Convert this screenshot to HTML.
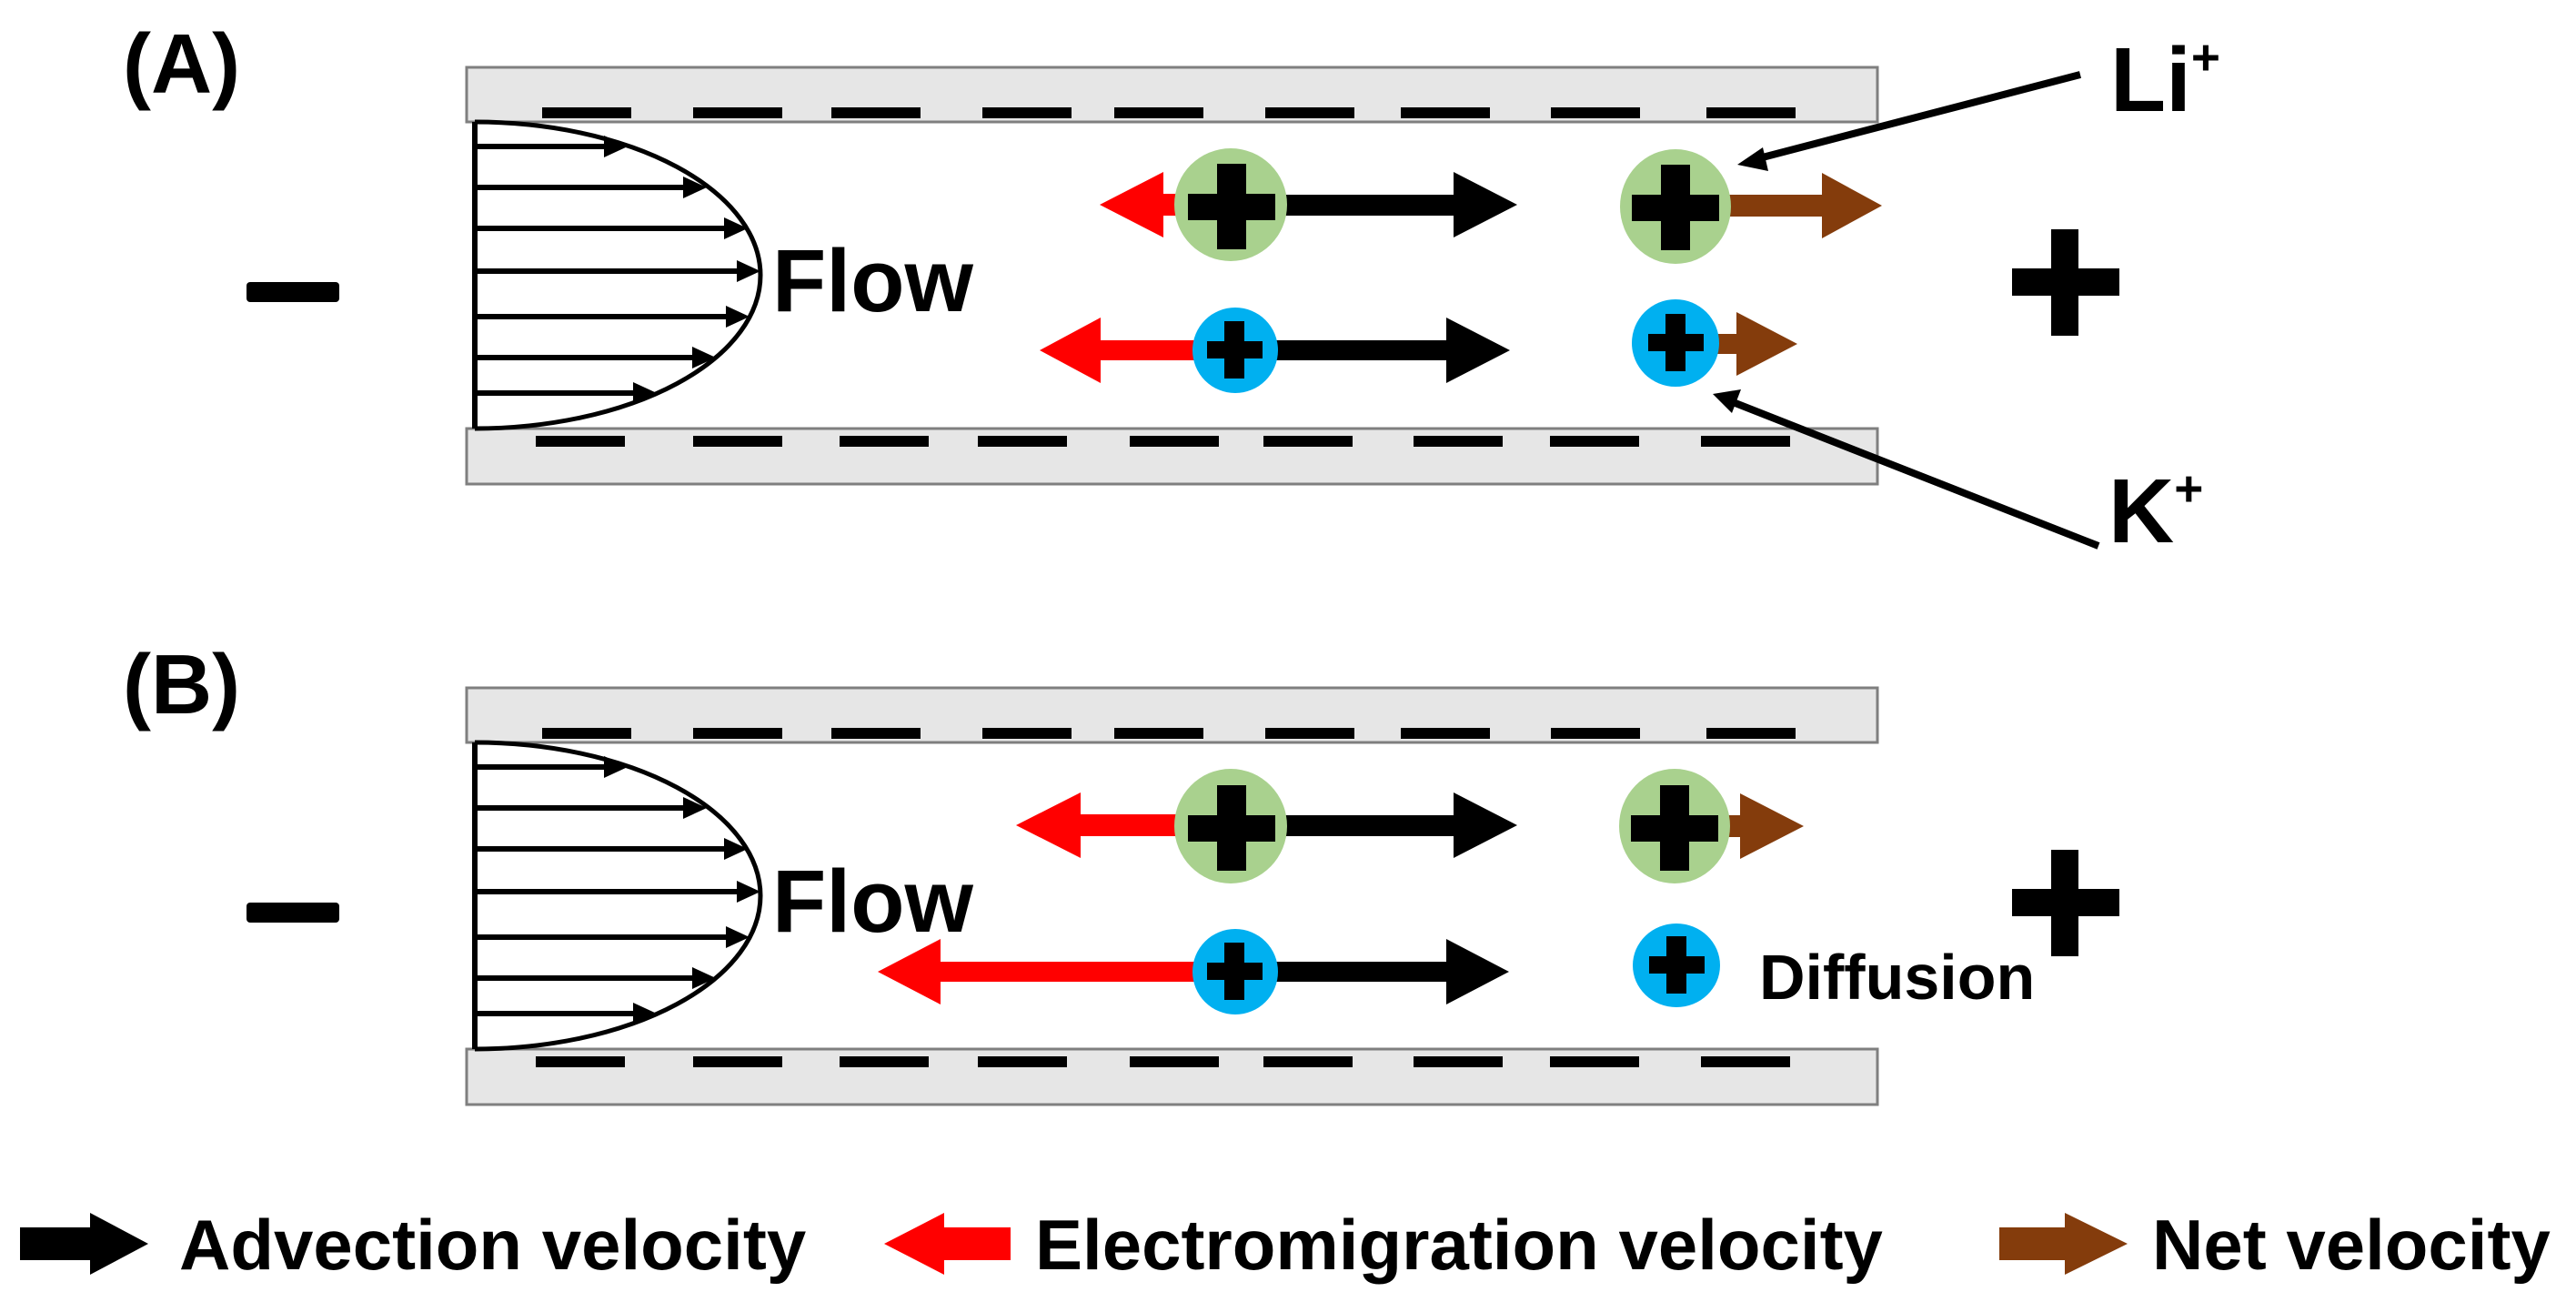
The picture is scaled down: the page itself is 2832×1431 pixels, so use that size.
<!DOCTYPE html>
<html><head><meta charset="utf-8"><style>
html,body{margin:0;padding:0;background:#fff;}
svg{display:block;}
text{font-family:"Liberation Sans",Arial,sans-serif;font-weight:bold;fill:#000;}
</style></head><body>
<svg width="2832" height="1431" viewBox="0 0 2832 1431" xmlns="http://www.w3.org/2000/svg">
<defs>
<g id="chan">
  <rect x="513" y="74" width="1551" height="60" fill="#e6e6e6" stroke="#7f7f7f" stroke-width="3"/>
  <rect x="513" y="471" width="1551" height="61" fill="#e6e6e6" stroke="#7f7f7f" stroke-width="3"/>
  <g fill="#000">
    <rect x="596" y="118" width="98" height="12"/><rect x="762" y="118" width="98" height="12"/>
    <rect x="914" y="118" width="98" height="12"/><rect x="1080" y="118" width="98" height="12"/>
    <rect x="1225" y="118" width="98" height="12"/><rect x="1391" y="118" width="98" height="12"/>
    <rect x="1540" y="118" width="98" height="12"/><rect x="1705" y="118" width="98" height="12"/>
    <rect x="1876" y="118" width="98" height="12"/>
    <rect x="589" y="479" width="98" height="12"/><rect x="762" y="479" width="98" height="12"/>
    <rect x="923" y="479" width="98" height="12"/><rect x="1075" y="479" width="98" height="12"/>
    <rect x="1242" y="479" width="98" height="12"/><rect x="1389" y="479" width="98" height="12"/>
    <rect x="1554" y="479" width="98" height="12"/><rect x="1704" y="479" width="98" height="12"/>
    <rect x="1870" y="479" width="98" height="12"/>
  </g>
  <path d="M522,134 A314,168.5 0 0 1 522,471" fill="none" stroke="#000" stroke-width="5"/>
  <line x1="522" y1="134" x2="522" y2="471" stroke="#000" stroke-width="6"/>
  <g stroke="#000" stroke-width="6">
    <line x1="522" y1="161" x2="670" y2="161"/><line x1="522" y1="206" x2="757" y2="206"/>
    <line x1="522" y1="251" x2="800" y2="251"/><line x1="522" y1="298" x2="815" y2="298"/>
    <line x1="522" y1="348" x2="803" y2="348"/><line x1="522" y1="393" x2="766" y2="393"/>
    <line x1="522" y1="432" x2="700" y2="432"/>
  </g>
  <g fill="#000">
    <polygon points="664,149 690,161 664,173"/><polygon points="751,194 777,206 751,218"/>
    <polygon points="796,239 822,251 796,263"/><polygon points="810,286 836,298 810,310"/>
    <polygon points="798,336 824,348 798,360"/><polygon points="761,381 787,393 761,405"/>
    <polygon points="696,420 722,432 696,444"/>
  </g>
  <text x="849" y="342" font-size="97">Flow</text>
  <rect x="271" y="310" width="102" height="22" rx="4" fill="#000"/>
  <rect x="2255" y="252" width="30" height="117" fill="#000"/>
  <rect x="2212" y="295" width="118" height="30" fill="#000"/>
</g>
<g id="gplus"><rect x="-16" y="-47" width="32" height="94"/><rect x="-48" y="-14" width="96" height="29"/></g>
<g id="bplus"><rect x="-11" y="-32" width="22" height="63"/><rect x="-30" y="-10" width="61" height="19"/></g>
</defs>

<text x="135" y="102" font-size="93">(A)</text>
<text x="135" y="784" font-size="93">(B)</text>
<use href="#chan"/>
<use href="#chan" transform="translate(0,682)"/>

<polygon points="1209,225 1279,189 1279,213 1320,213 1320,237 1279,237 1279,261" fill="#f00"/>
<polygon points="1353,214 1598,214 1598,189 1668,225 1598,261 1598,237 1353,237" fill="#000"/>
<polygon points="1843,214 2003,214 2003,190 2069,226 2003,262 2003,238 1843,238" fill="#843c0c"/>
<polygon points="1143,385 1210,349 1210,374 1340,374 1340,396 1210,396 1210,421" fill="#f00"/>
<polygon points="1358,374 1590,374 1590,349 1660,385 1590,421 1590,396 1358,396" fill="#000"/>
<polygon points="1843,367 1909,367 1909,343 1976,378 1909,413 1909,389 1843,389" fill="#843c0c"/>
<ellipse cx="1353" cy="225" rx="62" ry="62" fill="#a9d18e"/>
<ellipse cx="1842" cy="227" rx="61" ry="63" fill="#a9d18e"/>
<ellipse cx="1358" cy="385" rx="47" ry="47" fill="#00b0f0"/>
<ellipse cx="1842" cy="377" rx="48" ry="48" fill="#00b0f0"/>
<use href="#gplus" transform="translate(1354,227)"/>
<use href="#gplus" transform="translate(1842,228)"/>
<use href="#bplus" transform="translate(1357,385)"/>
<use href="#bplus" transform="translate(1842,377)"/>

<line x1="2287" y1="82" x2="1930" y2="175" stroke="#000" stroke-width="8"/>
<polygon points="1910,181 1938,162 1944,188" fill="#000"/>
<line x1="2307" y1="600" x2="1900" y2="440" stroke="#000" stroke-width="8"/>
<polygon points="1883,433 1914,428 1904,454" fill="#000"/>
<text x="2320" y="122" font-size="100">Li<tspan font-size="55" dy="-40">+</tspan></text>
<text x="2318" y="596" font-size="100">K<tspan font-size="55" dy="-40">+</tspan></text>

<polygon points="1117,907 1188,871 1188,895 1320,895 1320,919 1188,919 1188,943" fill="#f00"/>
<polygon points="1353,896 1598,896 1598,871 1668,907 1598,943 1598,919 1353,919" fill="#000"/>
<polygon points="1843,896 1913,896 1913,872 1983,908 1913,944 1913,920 1843,920" fill="#843c0c"/>
<polygon points="965,1068 1034,1032 1034,1057 1340,1057 1340,1079 1034,1079 1034,1104" fill="#f00"/>
<polygon points="1358,1057 1590,1057 1590,1032 1659,1068 1590,1104 1590,1079 1358,1079" fill="#000"/>
<ellipse cx="1353" cy="908" rx="62" ry="63" fill="#a9d18e"/>
<ellipse cx="1841" cy="908" rx="61" ry="63" fill="#a9d18e"/>
<ellipse cx="1358" cy="1068" rx="47" ry="47" fill="#00b0f0"/>
<ellipse cx="1843" cy="1061" rx="48" ry="46" fill="#00b0f0"/>
<use href="#gplus" transform="translate(1354,910)"/>
<use href="#gplus" transform="translate(1841,910)"/>
<use href="#bplus" transform="translate(1357,1068)"/>
<use href="#bplus" transform="translate(1843,1061)"/>
<text x="1934" y="1098" font-size="70">Diffusion</text>

<polygon points="22,1349 99,1349 99,1333 163,1367 99,1401 99,1385 22,1385" fill="#000"/>
<text x="197" y="1395" font-size="78">Advection velocity</text>
<polygon points="972,1367 1038,1333 1038,1349 1111,1349 1111,1385 1038,1385 1038,1401" fill="#f00"/>
<text x="1138" y="1395" font-size="78">Electromigration velocity</text>
<polygon points="2198,1349 2270,1349 2270,1333 2339,1367 2270,1401 2270,1385 2198,1385" fill="#843c0c"/>
<text x="2366" y="1395" font-size="78">Net velocity</text>
</svg>
</body></html>
